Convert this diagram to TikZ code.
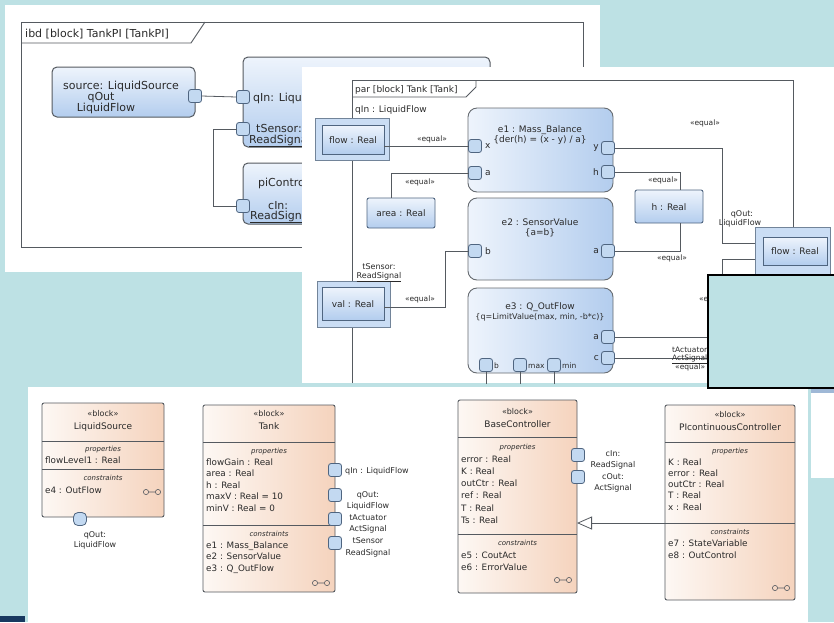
\documentclass[tikz,border=0pt]{standalone}
\usepackage{fontspec}
\setmainfont{DejaVu Sans}
\usetikzlibrary{arrows.meta,calc}
\definecolor{bgteal}{HTML}{BDE1E4}
\definecolor{lnc}{HTML}{555A60}
\definecolor{blueL}{HTML}{EEF4FC}
\definecolor{blueD}{HTML}{B3CDEE}
\definecolor{blueM}{HTML}{CADDF4}
\definecolor{portc}{HTML}{C3D9F1}
\definecolor{portb}{HTML}{4F6580}
\definecolor{peachL}{HTML}{FDF8F4}
\definecolor{peachD}{HTML}{F5D3BD}
\definecolor{navy}{HTML}{18385F}
\definecolor{stripb}{HTML}{9FB8D6}
\definecolor{txt}{HTML}{2A2A2A}
\newcommand\rnode[6]{\node[#1,anchor=north west,minimum width={#5-#3},minimum height={#6-#4}] (#2) at (#3,#4) {};}
\tikzset{
  frame/.style={draw=lnc, line width=0.9pt},
  conn/.style={draw=lnc, line width=0.8pt},
  ibdblock/.style={draw=lnc, line width=1pt, rounded corners=5pt, top color=blueL, bottom color=blueD, inner sep=0pt, outer sep=0pt},
  cblock/.style={draw=lnc!90, line width=0.9pt, rounded corners=9pt, left color=blueL, right color=blueD, inner sep=0pt, outer sep=0pt},
  pbout/.style={draw=portb!80, line width=0.9pt, fill=blueM, inner sep=0pt, outer sep=0pt},
  pbin/.style={draw=portb, line width=1pt, top color=blueL, bottom color=blueD, inner sep=0pt, outer sep=0pt},
  pbox/.style={draw=portb, line width=0.9pt, rounded corners=2pt, top color=blueL, bottom color=blueD, inner sep=0pt, outer sep=0pt},
  port/.style={draw=portb, line width=0.8pt, fill=portc, rounded corners=2.5pt, minimum size=13pt, inner sep=0pt, outer sep=0pt},
  classbox/.style={draw=lnc, line width=0.9pt, rounded corners=2pt, left color=peachL, right color=peachD, inner sep=0pt, outer sep=0pt},
  sep/.style={draw=lnc, line width=0.9pt},
  tA/.style={font=\fontsize{11}{12}\selectfont, text=txt, inner sep=0pt},
  tB/.style={font=\fontsize{9}{10}\selectfont, text=txt, inner sep=0pt},
  tBs/.style={font=\fontsize{8}{9}\selectfont, text=txt, inner sep=0pt},
  tEq/.style={font=\fontsize{7.5}{8}\selectfont, text=txt, inner sep=0pt},
  tC/.style={font=\fontsize{8.8}{9}\selectfont, text=txt, inner sep=0pt},
  tCb/.style={font=\fontsize{8}{8}\selectfont, text=txt, inner sep=0pt},
  tCh/.style={font=\fontsize{9}{9}\selectfont, text=txt, inner sep=0pt},
  tCs/.style={font=\fontsize{7}{7}\selectfont\itshape, text=txt, inner sep=0pt},
  glasses/.pic={\draw[lnc, line width=0.6pt] (-6,0) circle[radius=2.6] (6,0) circle[radius=2.6] (-3.4,0) -- (3.4,0);},
}
\begin{document}
\begin{tikzpicture}[x=1pt,y=-1pt]
\useasboundingbox (0,0) rectangle (834,622);
\fill[bgteal] (0,0) rectangle (834,622);

% ---------------- panel 1 : ibd
\fill[white] (5,5) rectangle (600,272);
\draw[frame] (21,22) rectangle (583,247);
\draw[frame] (21,43) -- (191,43) -- (205,22);
\node[tA, anchor=base west] (ibdt) at (25,37) {ibd [block] TankPI [TankPI]};
\rnode{ibdblock}{src}{52}{67}{195}{117}
\node[tA, anchor=base] (srcn) at (121,89) {source: LiquidSource};
\node[tA, anchor=base] (srcq) at (101,100) {qOut};
\node[tA, anchor=base] (srcl) at (106,111) {LiquidFlow};
\rnode{ibdblock}{tankpart}{243}{57}{490}{147}
\rnode{ibdblock}{pipart}{243}{163}{420}{224}
\node[port] (srcp) at (195,96) {};
\node[port] (qinp) at (243,97) {};
\node[port] (tsp) at (243,129) {};
\node[port] (cinp) at (243,206) {};
\node[tA,anchor=base west] (qinl) at (253,101) {qIn: LiquidFlow};
\node[tA,anchor=base west] (tsl) at (256,132) {tSensor:};
\node[tA,anchor=base west] (tsl2) at (249,143) {\underline{ReadSignal}};
\node[tA,anchor=base west] (pil) at (258,186) {piController: PIcontinuousController};
\node[tA,anchor=base west] (cinl) at (268,209) {cIn:};
\node[tA,anchor=base west] (cinl2) at (250,219) {\underline{ReadSignal}};
\draw[conn] (srcp.east) -- (qinp.west);
\draw[conn] (tsp.west) -- ++(-23,0) |- (cinp.west);

% ---------------- panel 2 : par
\fill[white] (302,67) rectangle (834,383);
\draw[frame] (352,383) -- (352,80) -- (793,80) -- (793,383);
\draw[frame] (352,97) -- (466,97) -- (476,87) -- (476,80);
\node[tB,anchor=base west] (part) at (355,92) {par [block] Tank [Tank]};
\node[tB,anchor=base west] (parq) at (355,112) {qIn : LiquidFlow};

\rnode{cblock}{eone}{468}{108}{613}{192}
\rnode{cblock}{etwo}{468}{198}{613}{280}
\rnode{cblock}{ethree}{468}{288}{613}{373}
\node[tB,anchor=base] (eonet) at (540,132) {e1 : Mass\_Balance};
\node[tB,anchor=base] (eonee) at (540,142) {\{der(h) = (x - y) / a\}};
\node[tB,anchor=base] (etwot) at (540,225) {e2 : SensorValue};
\node[tB,anchor=base] (etwoe) at (540,235) {\{a=b\}};
\node[tB,anchor=base] (ethreet) at (540,309) {e3 : Q\_OutFlow};
\node[tBs,anchor=base] (ethreee) at (540,319) {\{q=LimitValue(max, min, -b*c)\}};

\rnode{pbout}{flowL}{315}{118}{389}{160}
\rnode{pbin}{flowLi}{322}{125}{384}{154}
\node[tB] (flowLt) at (353,140) {flow : Real};
\rnode{pbox}{area}{367}{198}{435}{228}
\node[tB] (areat) at (401,213) {area : Real};
\rnode{pbout}{valO}{317}{281}{390}{327}
\rnode{pbin}{valI}{322}{287}{384}{320}
\node[tB] (valt) at (353,304) {val : Real};
\node[tBs,anchor=base] (vall1) at (379,269) {tSensor:};
\node[tBs,anchor=base] (vall2) at (379,278) {\underline{ReadSignal}};
\rnode{pbox}{hbox}{635}{190}{703}{223}
\node[tB] (ht) at (669,207) {h : Real};
\rnode{pbout}{flowR}{755}{227}{830}{300}
\rnode{pbin}{flowRi}{763}{237}{827}{265}
\node[tB] (flowRt) at (795,251) {flow : Real};
\node[tBs,anchor=base] (qol1) at (742,216) {qOut:};
\node[tBs,anchor=base] (qol2) at (740,225) {LiquidFlow};

% ports of constraint blocks
\node[port] (eonex) at (475,146) {};
\node[port] (eonea) at (475,173) {};
\node[port] (eoney) at (608,148) {};
\node[port] (eoneh) at (608,172) {};
\node[port] (etwob) at (475,251) {};
\node[port] (etwoa) at (608,251) {};
\node[port] (ethreea) at (608,337) {};
\node[port] (ethreec) at (608,358) {};
\node[port] (ethreeb) at (486,365) {};
\node[port] (ethreemax) at (520,365) {};
\node[port] (ethreemin) at (554,365) {};
\node[tB,anchor=west] (lx) at (485,146) {x};
\node[tB,anchor=west] (la) at (485,173) {a};
\node[tB,anchor=east] (ly) at (599,148) {y};
\node[tB,anchor=east] (lh) at (599,172) {h};
\node[tB,anchor=west] (lb) at (485,251) {b};
\node[tB,anchor=east] (la2) at (599,251) {a};
\node[tB,anchor=east] (la3) at (599,337) {a};
\node[tB,anchor=east] (lc) at (599,358) {c};
\node[tEq,anchor=west] (lbb) at (494,366) {b};
\node[tEq,anchor=west] (lmax) at (528,366) {max};
\node[tEq,anchor=west] (lmin) at (562,366) {min};

% connectors
\coordinate (j1) at (722,243);
\coordinate (j2) at (722,259);
\draw[conn] (flowLi.east |- eonex.west) -- (eonex.west);
\node[tEq] (q1) at (432,139) {«equal»};
\draw[conn] (eonea.west) -| ($(area.north west)+(24,0)$);
\node[tEq] (q2) at (420,182) {«equal»};
\draw[conn] ($(valI.east)+(0,4)$) -- ++(61,0) |- (etwob.west);
\node[tEq] (q3) at (420,299) {«equal»};
\draw[conn] (eoney.east) -| (j1) -- (j1 -| flowR.west);
\node[tEq] (q4) at (705,123) {«equal»};
\draw[conn] (eoneh.east) -| ($(hbox.north)+(11,0)$);
\node[tEq] (q5) at (663,180) {«equal»};
\draw[conn] ($(hbox.south)+(11,0)$) |- (etwoa.east);
\node[tEq] (q6) at (672,258) {«equal»};
\draw[conn] (ethreea.east) -| (j2) -- (j2 -| flowR.west);
\node[tEq] (q7) at (714,299) {«equal»};
\draw[conn] (ethreec.east) -- ++(160,0);
\node[tEq,anchor=base west] (tal1) at (672,352) {tActuator:};
\node[tEq,anchor=base west] (tal2) at (672,360) {\underline{ActSignal}};
\node[tEq,anchor=base west] (q8) at (675,369) {«equal»};
\draw[conn] (ethreeb.south) -- ++(0,12);
\draw[conn] (ethreemax.south) -- ++(0,12);
\draw[conn] (ethreemin.south) -- ++(0,12);

% ---------------- panel 3 : bdd
\fill[white] (28,387) rectangle (808,622);

% LiquidSource
\rnode{classbox}{ls}{42}{403}{164}{517}
\draw[sep] (42,441) -- (164,441);
\draw[sep] (42,469) -- (164,469);
\node[tCb,anchor=base] (lsb) at (103,416) {«block»};
\node[tCh,anchor=base] (lsn) at (103,429) {LiquidSource};
\node[tCs,anchor=base] (lsp) at (103,451) {properties};
\node[tC,anchor=base west] (lsp1) at (45,463) {flowLevel1 : Real};
\node[tCs,anchor=base] (lsc) at (103,480) {constraints};
\node[tC,anchor=base west] (lsc1) at (45,493) {e4 : OutFlow};
\pic at (152,492) {glasses};
\node[port, rounded corners=4.5pt] (lsq) at (80,519) {};
\node[tCb,anchor=base] (lsql1) at (95,537) {qOut:};
\node[tCb,anchor=base] (lsql2) at (95,547) {LiquidFlow};

% Tank
\rnode{classbox}{tank}{203}{405}{335}{592}
\draw[sep] (203,442) -- (335,442);
\draw[sep] (203,525) -- (335,525);
\node[tCb,anchor=base] (tkb) at (269,416) {«block»};
\node[tCh,anchor=base] (tkn) at (269,429) {Tank};
\node[tCs,anchor=base] (tkp) at (269,453) {properties};
\foreach \t [count=\i from 0] in {flowGain : Real, area : Real, h : Real, maxV : Real = 10, minV : Real = 0}
  \node[tC,anchor=base west] (tkp\i) at (206,{465+11.5*\i}) {\t};
\node[tCs,anchor=base] (tkc) at (269,536) {constraints};
\foreach \t [count=\i from 0] in {e1 : Mass\_Balance, e2 : SensorValue, e3 : Q\_OutFlow}
  \node[tC,anchor=base west] (tkc\i) at (206,{548+11.5*\i}) {\t};
\pic at (321,583) {glasses};
\node[port] (tkq1) at (335,470) {};
\node[port] (tkq2) at (335,495) {};
\node[port] (tkq3) at (335,519) {};
\node[port] (tkq4) at (335,543) {};
\node[tCb,anchor=base west] (tkl1) at (345,473) {qIn : LiquidFlow};
\foreach \t [count=\i from 0] in {qOut:, LiquidFlow, tActuator, ActSignal, tSensor, ReadSignal}
  \node[tCb,anchor=base] (tkl\i x) at (368,{497+11.6*\i}) {\t};

% BaseController
\rnode{classbox}{bc}{458}{400}{577}{593}
\draw[sep] (458,437) -- (577,437);
\draw[sep] (458,534) -- (577,534);
\node[tCb,anchor=base] (bcb) at (517.5,414) {«block»};
\node[tCh,anchor=base] (bcn) at (517.5,427) {BaseController};
\node[tCs,anchor=base] (bcp) at (517.5,449) {properties};
\foreach \t [count=\i from 0] in {error : Real, K : Real, outCtr : Real, ref : Real, T : Real, Ts : Real}
  \node[tC,anchor=base west] (bcp\i) at (461,{462+12.3*\i}) {\t};
\node[tCs,anchor=base] (bcc) at (517.5,545) {constraints};
\node[tC,anchor=base west] (bcc1) at (461,558) {e5 : CoutAct};
\node[tC,anchor=base west] (bcc2) at (461,570) {e6 : ErrorValue};
\pic at (563,580) {glasses};
\node[port] (bcq1) at (578,455) {};
\node[port] (bcq2) at (578,477) {};
\foreach \t [count=\i from 0] in {cIn:, ReadSignal, cOut:, ActSignal}
  \node[tCb,anchor=base] (bcl\i) at (613,{456+11.5*\i}) {\t};

% PIcontinuousController
\rnode{classbox}{pi}{665}{405}{795}{600}
\draw[sep] (665,442) -- (795,442);
\draw[sep] (665,523) -- (795,523);
\node[tCb,anchor=base] (pib) at (730,417) {«block»};
\node[tCh,anchor=base] (pin) at (730,430) {PIcontinuousController};
\node[tCs,anchor=base] (pip) at (730,453) {properties};
\foreach \t [count=\i from 0] in {K : Real, error : Real, outCtr : Real, T : Real, x : Real}
  \node[tC,anchor=base west] (pip\i) at (668,{465+11.3*\i}) {\t};
\node[tCs,anchor=base] (pic) at (730,534) {constraints};
\node[tC,anchor=base west] (pic1) at (668,546) {e7 : StateVariable};
\node[tC,anchor=base west] (pic2) at (668,558) {e8 : OutControl};
\pic at (781,588) {glasses};

\coordinate (gA) at (665,523);
\coordinate (gB) at (577,523);
\draw[conn, -{Triangle[length=15pt,width=13pt,fill=white]}] (gA) -- (gB);

% ---------------- overlays
\fill[white] (811,389) rectangle (834,478);
\fill[stripb] (811,388) rectangle (834,393);
\draw[black, line width=1.5pt, fill=bgteal] (708,275) rectangle (838,388);
\fill[navy] (0,616) rectangle (25,622);
\end{tikzpicture}
\end{document}
